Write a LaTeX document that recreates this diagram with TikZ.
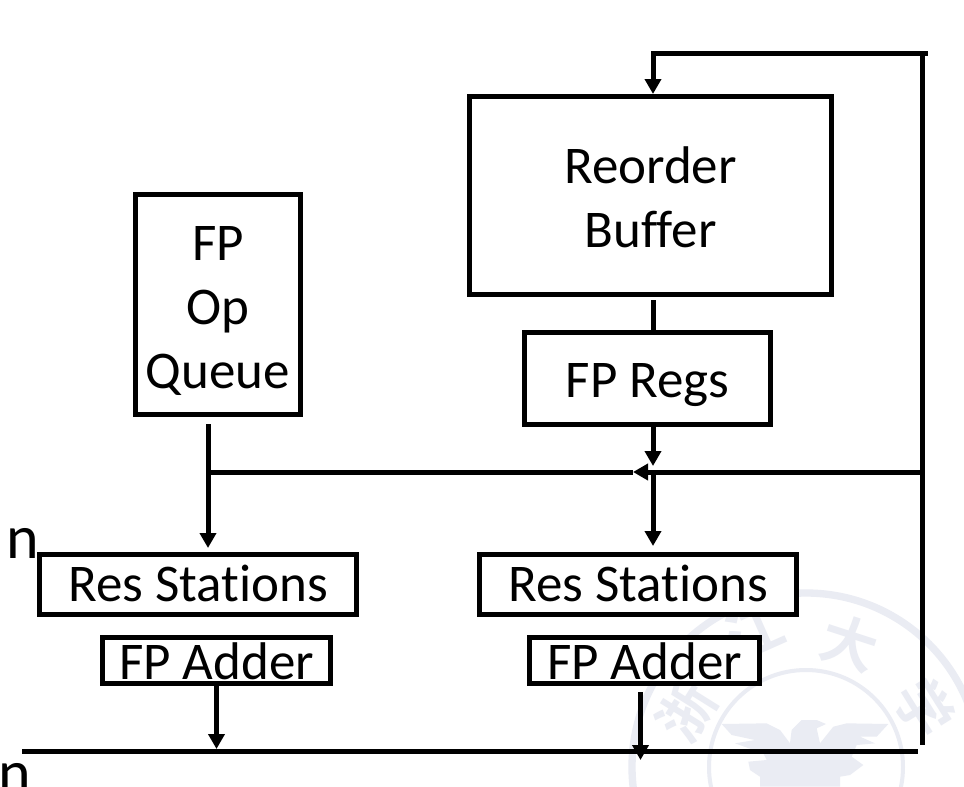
\documentclass[tikz,border=0pt]{standalone}
\usepackage{fontspec}
\setmainfont{Carlito}[Ligatures=NoCommon]
\newfontfamily\cjkseal{Noto Sans CJK SC}[BoldFont={* Bold}]
\usetikzlibrary{arrows.meta}
\definecolor{sealc}{HTML}{EAECF3}
\tikzset{
  box/.style={draw=black,fill=white,line width=3.75pt,rectangle,inner sep=0pt,outer sep=0pt,font=\fontsize{39.75}{47.8}\selectfont,align=center},
  wire/.style={draw=black,line width=3.75pt,line cap=butt},
  arrowed/.style={wire,-{Triangle[width=12pt,length=11.25pt]}},
  clipped/.style={inner sep=0pt,anchor=base west,font=\fontsize{46.5}{50}\selectfont},
  sealch/.style={text=sealc,inner sep=0pt,font=\cjkseal\bfseries\fontsize{42}{42}\selectfont}
}
\begin{document}
\begin{tikzpicture}[x=0.75pt,y=-0.75pt]
\clip (0,0) rectangle (964,786);
\fill[white] (0,0) rectangle (964,786);
% watermark seal
\draw[sealc,line width=5.5pt] (806,767) circle[radius=174];
\draw[sealc,line width=3pt] (806,767) circle[radius=97];
\node[sealch,rotate=58] (sjz) at (686,711) {浙};
\node[sealch,rotate=24] (sjj) at (754,632) {江};
\node[sealch,rotate=-18] (sjd) at (850,643) {大};
\node[sealch,rotate=-58] (sjx) at (925,708) {学};
\begin{scope}[shift={(620,580)},x=0.25pt,y=-0.25pt]
\fill[sealc] (305,432) -- (440,430) -- (480,450) -- (510,490) -- (515,450) -- (545,420) -- (590,420) -- (618,432) -- (590,445) -- (600,490) -- (640,440) -- (680,430) -- (805,432) -- (770,470) -- (720,470) -- (765,490) -- (710,495) -- (695,530) -- (730,555) -- (690,585) -- (660,590) -- (660,620) -- (420,620) -- (420,590) -- (390,570) -- (385,545) -- (440,540) -- (430,520) -- (345,490) -- (405,480) -- (335,465) -- cycle;
\end{scope}
% boxes
\node[box,minimum width=271.5pt,minimum height=148.5pt,text height=77.25pt,text depth=0pt] (rob) at (650.5,195.5) {Reorder\\Buffer};
\node[box,minimum width=123.75pt,minimum height=165pt,text height=125.25pt,text depth=0pt] (fpq) at (218,304.5) {FP\\Op\\Queue};
\node[box,minimum width=184.5pt,minimum height=69pt,text height=30pt,text depth=2.25pt] (regs) at (647.5,378.5) {FP Regs};
\node[box,minimum width=237.75pt,minimum height=45pt,text height=27.75pt,text depth=2.25pt] (rs1) at (198,584.5) {Res Stations};
\node[box,minimum width=237.75pt,minimum height=45pt,text height=27.75pt,text depth=2.25pt] (rs2) at (638,584.5) {Res Stations};
\node[box,minimum width=171pt,minimum height=34.5pt,text height=30pt,text depth=2.25pt] (fa1) at (216.5,660.5) {FP Adder};
\node[box,minimum width=172.5pt,minimum height=34.5pt,text height=30pt,text depth=2.25pt] (fa2) at (644.5,660.5) {FP Adder};
\node[clipped] (n1) at (6,558) {n};
\node[clipped] (n2) at (-2,793) {n};
% coordinates
\coordinate (tr) at (928,53);
\coordinate (tl) at (651,53);
\coordinate (tv) at (653,51);
\coordinate (vt) at (922,53);
\coordinate (vb) at (922,745);
\coordinate (bl) at (207,472);
\coordinate (br) at (924,472);
\coordinate (bm) at (633,472);
\coordinate (cbl) at (22,751);
\coordinate (cbr) at (918,751);
% wires
\draw[wire] (tl) -- (tr);
\draw[wire] (vt) -- (vb);
\draw[arrowed] (tv) -- (653,94);
\draw[wire] (653,300) -- (653,332);
\draw[arrowed] (653,425) -- (653,466);
\draw[arrowed] (br) -- (bm);
\draw[wire] (bm) -- (bl);
\draw[arrowed] (653,475) -- (653,546);
\draw[arrowed] (208,424) -- (208,548);
\draw[wire] (cbl) -- (cbr);
\draw[arrowed] (216.5,684) -- (216.5,749);
\draw[arrowed] (640.5,692) -- (640.5,760);
\end{tikzpicture}
\end{document}
